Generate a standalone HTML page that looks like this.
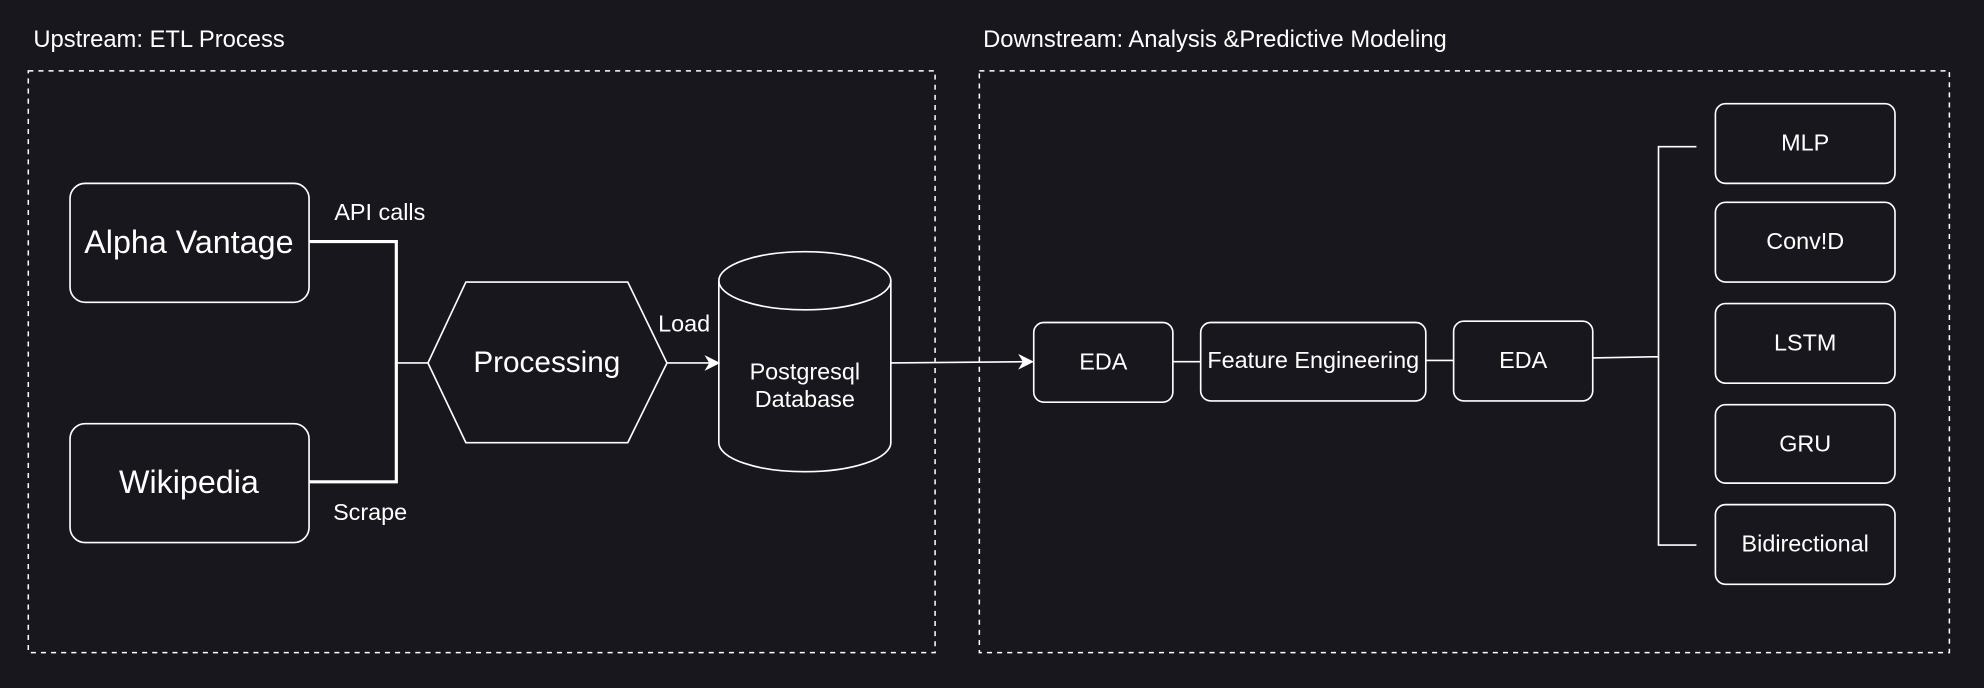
<!DOCTYPE html>
<html><head><meta charset="utf-8"><style>
html,body{margin:0;padding:0;background:#18171d;}
svg{display:block}
text{font-family:"Liberation Sans",Arial,sans-serif;fill:#fff}
</style></head><body>
<svg width="1984" height="688" viewBox="0 0 1568 544" xmlns="http://www.w3.org/2000/svg">
<rect width="1568" height="544" fill="#18171d"/>
<text x="26" y="37" font-size="18.8">Upstream: ETL Process</text>
<text x="777" y="37" font-size="18.8">Downstream: Analysis &amp;Predictive Modeling</text>
<g fill="none" stroke="#fff" stroke-width="1.2" stroke-dasharray="4 4">
<rect x="22" y="56" width="717" height="460"/>
<rect x="774" y="56" width="767" height="460"/>
</g>
<g fill="none" stroke="#fff" stroke-width="1.3">
<rect x="55" y="145" width="189" height="94" rx="12"/>
<rect x="55" y="335" width="189" height="94" rx="12"/>
<polygon points="338,287 368,223 496,223 527,287 496,350 368,350"/>
<path d="M568,222 V350 A68,23 0 0 0 704,350 V222"/>
<ellipse cx="636" cy="222" rx="68" ry="23"/>
<rect x="817" y="255" width="110" height="63" rx="8"/>
<rect x="949" y="255" width="178" height="62" rx="8"/>
<rect x="1149" y="254" width="110" height="63" rx="8"/>
<rect x="1356" y="82" width="142" height="63" rx="8"/>
<rect x="1356" y="160" width="142" height="63" rx="8"/>
<rect x="1356" y="240" width="142" height="63" rx="8"/>
<rect x="1356" y="320" width="142" height="62" rx="8"/>
<rect x="1356" y="399" width="142" height="63" rx="8"/>
<path d="M313,287 H338 M527,287 H562 M704,287 L810,286 M927,286 H949 M1127,285 H1149 M1259,283 L1311,282 M1341,116 H1311 V431 H1341"/>
</g>
<path d="M244,191 H313 V381 H244" fill="none" stroke="#fff" stroke-width="2.5"/>
<polygon points="568,287 558,282 561,287 558,292" fill="#fff" stroke="#fff"/>
<polygon points="816,286 806,281 809,286 806,291" fill="#fff" stroke="#fff"/>
<g text-anchor="middle">
<text x="149" y="200" font-size="25.5">Alpha Vantage</text>
<text x="149" y="390" font-size="25.5">Wikipedia</text>
<text x="432" y="294" font-size="23.5">Processing</text>
<text x="636" y="300" font-size="18.5">Postgresql</text>
<text x="636" y="322" font-size="18.5">Database</text>
<text x="872" y="292" font-size="18.5">EDA</text>
<text x="1038" y="291" font-size="18.5">Feature Engineering</text>
<text x="1204" y="291" font-size="18.5">EDA</text>
<text x="1427" y="119" font-size="18.5">MLP</text>
<text x="1427" y="197" font-size="18.5">Conv!D</text>
<text x="1427" y="277" font-size="18.5">LSTM</text>
<text x="1427" y="357" font-size="18.5">GRU</text>
<text x="1427" y="436" font-size="18.5">Bidirectional</text>
</g>
<text x="264" y="174" font-size="18.5">API calls</text>
<text x="263" y="411" font-size="18.5">Scrape</text>
<text x="520" y="262" font-size="18.5">Load</text>
</svg>
</body></html>
